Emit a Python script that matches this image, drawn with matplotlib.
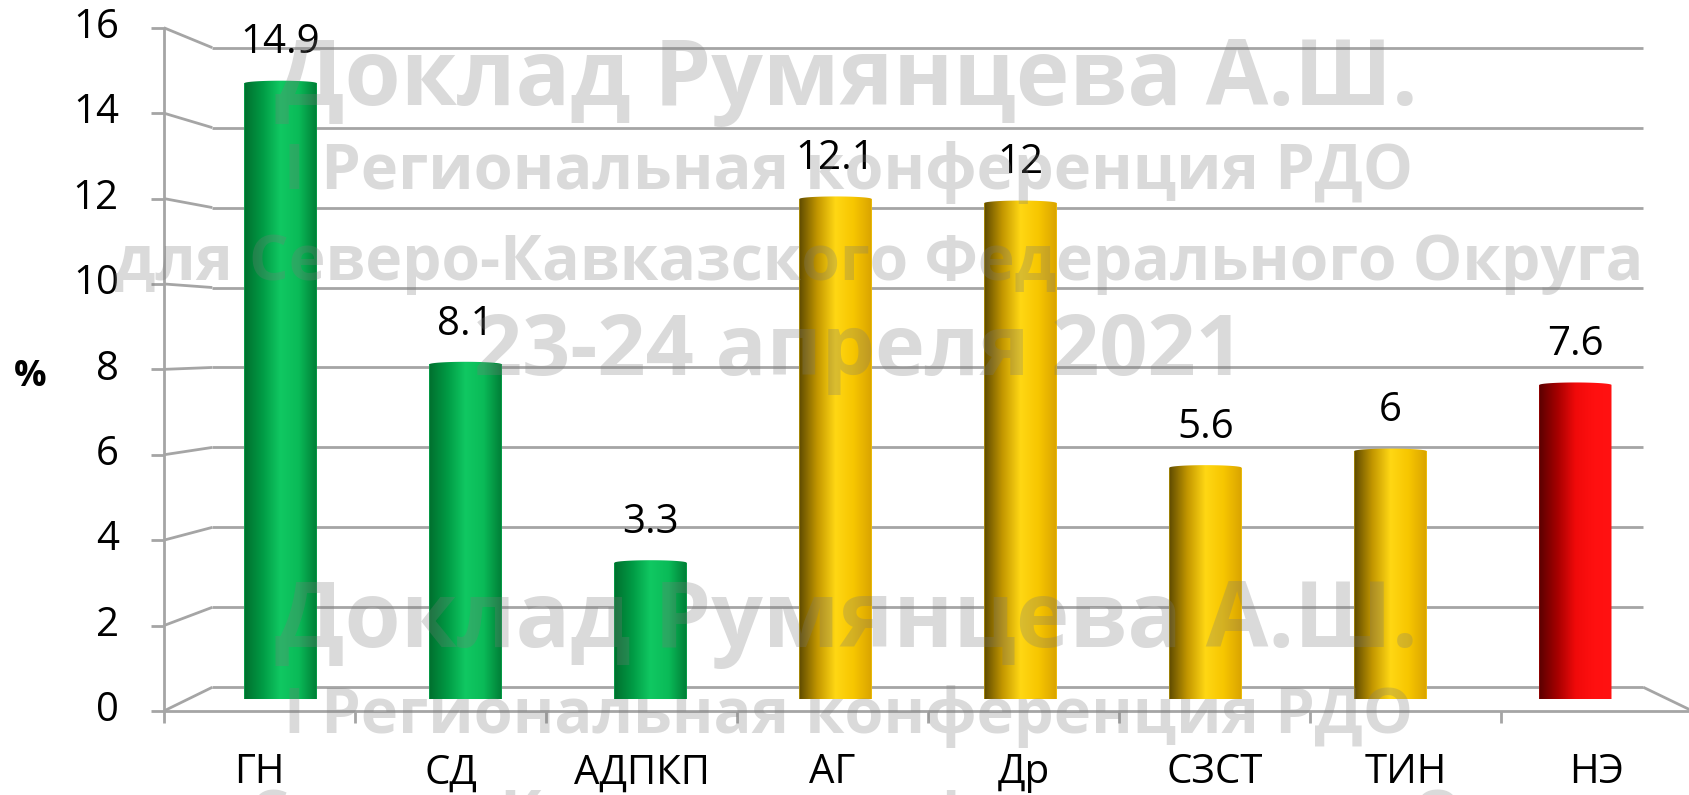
import numpy as np
import matplotlib.pyplot as plt
from matplotlib.path import Path
from matplotlib.patches import PathPatch
from matplotlib.colors import LinearSegmentedColormap

plt.rcParams['font.family'] = ['Open Sans', 'DejaVu Sans']

categories = ['ГН', 'СД', 'АДПКП', 'АГ', 'Др', 'СЗСТ', 'ТИН', 'НЭ']
values = [14.9, 8.1, 3.3, 12.1, 12.0, 5.6, 6.0, 7.6]
value_labels = ['14.9', '8.1', '3.3', '12.1', '12', '5.6', '6', '7.6']
groups = ['green', 'green', 'green', 'yellow', 'yellow', 'yellow', 'yellow', 'red']
y_ticks = [0, 2, 4, 6, 8, 10, 12, 14, 16]
watermark = ['Доклад Румянцева А.Ш.',
             'I Региональная конференция РДО',
             'для Северо-Кавказского Федерального Округа',
             '23-24 апреля 2021']

# cylinder shading, left edge -> right edge
shades = {
    'green': ['#006f2e', '#009a44', '#10c862', '#0abb58', '#007d36'],
    'yellow': ['#5e4a00', '#c29600', '#ffd714', '#f7c600', '#d9a300'],
    'red': ['#5a0000', '#a50000', '#f00a0a', '#ff1010', '#ff1212'],
}

# layout measured on the reference (in 1568x738 px)
W, H = 1568, 738
fig = plt.figure(figsize=(16.9, 7.95), dpi=100)
ax = fig.add_axes([174.5 / W, 1 - 649 / H, 1373 / W, 614 / H])
ax.set_xlim(-0.5, 7.5)
ax.set_ylim(0, 16)
ax.axis('off')

n = len(categories)
k = 0.033        # perspective scale of front / back planes
dx, dy = 0.131, 0.287
fs = 29


def plane(xe, v, d):
    # xe: position along the floor in slots (0..n), d: -1 front, +1 back wall
    s = 1 - k * d
    return -0.5 + xe * s + dx * d, v * s + dy * d


grid_kw = dict(color='#a5a5a5', lw=2, clip_on=False, zorder=0, solid_capstyle='butt')

# back wall gridlines + connectors to the front axis
for t in y_ticks:
    bx0, by = plane(0, t, 1)
    bx1, _ = plane(n, t, 1)
    fx, fy = plane(0, t, -1)
    ax.plot([bx0, bx1], [by, by], **grid_kw)
    ax.plot([fx, bx0], [fy, by], **grid_kw)
    ax.plot([fx - 0.07, fx], [fy, fy], **grid_kw)
    ax.annotate(str(t), (fx, fy), xytext=(-45, 0), textcoords='offset pixels',
                ha='right', va='center', fontsize=fs, annotation_clip=False)

# front axis and floor
fx0, fy0 = plane(0, 0, -1)
fx_top, fy_top = plane(0, y_ticks[-1], -1)
ax.plot([fx0, fx0], [fy0 - 0.3, fy_top], **grid_kw)
fxn, _ = plane(n, 0, -1)
bxn, byn = plane(n, 0, 1)
ax.plot([fx0, fxn], [fy0, fy0], **grid_kw)
ax.plot([bxn, fxn], [byn, fy0], **grid_kw)
for i in range(1, n):
    xi, _ = plane(i, 0, -1)
    ax.plot([xi, xi], [fy0, fy0 - 0.3], **grid_kw)

# category labels under the front edge
for i, name in enumerate(categories):
    xc, yc = plane(i + 0.5, 0, -1)
    ax.annotate(name, (xc, yc), xytext=(0, -62), textcoords='offset pixels',
                ha='center', va='center', fontsize=fs, annotation_clip=False)

# cylinders
bw = 0.39
ry = 0.1
bars = ax.bar(range(n), values, width=bw, zorder=2, linewidth=0)
grad = np.linspace(0, 1, 256)[None, :]
for i, (b, v, g) in enumerate(zip(bars, values, groups)):
    cmap = LinearSegmentedColormap.from_list(g, shades[g])
    b.set_facecolor(shades[g][2])
    x0 = i - bw / 2
    t_ = np.linspace(0, np.pi, 40)
    top_arc = np.column_stack([i - bw / 2 * np.cos(t_), v + 0.6 * ry * np.sin(t_)])
    bot_arc = np.column_stack([i + bw / 2 * np.cos(t_), -ry * np.sin(t_)])
    verts = np.vstack([top_arc, bot_arc, top_arc[:1]])
    patch = PathPatch(Path(verts, closed=True), facecolor='none', edgecolor='none',
                      transform=ax.transData)
    ax.add_patch(patch)
    im = ax.imshow(grad, cmap=cmap, extent=[x0, x0 + bw, -ry, v + ry],
                   aspect='auto', zorder=3, interpolation='bilinear')
    im.set_clip_path(patch)
    ax.annotate(value_labels[i], (i, v), xytext=(0, 40), textcoords='offset pixels',
                ha='center', va='center', fontsize=fs, zorder=4)

ax.set_xlim(-0.5, 7.5)
ax.set_ylim(0, 16)

fig.text(28 / W, 1 - 350 / H, '%', fontsize=26, fontweight='bold', ha='center', va='center')

# watermark lines: centre x, width, centre y for both copies (reference px)
wm_x = [785, 787, 815, 797]
wm_w = [1060, 1050, 1420, 715]
wm_y = [[75, 160, 245, 328], [578, 665, 760, 850]]
fig.canvas.draw()
renderer = fig.canvas.get_renderer()
for ys in wm_y:
    for txt, xc, yc, wd in zip(watermark, wm_x, ys, wm_w):
        t = fig.text(xc / W, 1 - yc / H, txt, ha='center', va='center',
                     fontsize=60, fontweight='bold', color='#7a7a7a', alpha=0.28, zorder=10)
        bb = t.get_window_extent(renderer)
        t.set_fontsize(60 * wd * (1690 / W) / bb.width)

fig.savefig('out.png', dpi=100)
